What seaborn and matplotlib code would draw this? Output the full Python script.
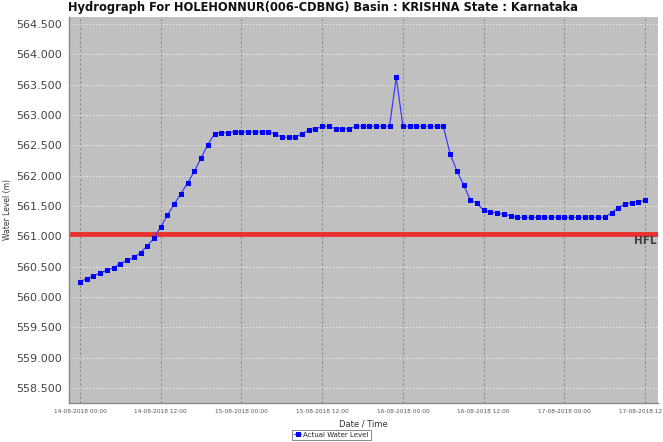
import numpy as np
import pandas as pd
import matplotlib
matplotlib.use("Agg")
import matplotlib.pyplot as plt
import matplotlib.dates as mdates
import matplotlib.transforms as mtransforms
import seaborn as sns

# --- data (hourly readings) ---
start_time = "2018-08-14 00:00"
water_level = [
    560.25, 560.30, 560.35, 560.39, 560.44, 560.48, 560.55, 560.60, 560.65, 560.73,
    560.84, 560.97, 561.15, 561.35, 561.53, 561.70, 561.88, 562.07, 562.29, 562.51,
    562.69, 562.70, 562.71, 562.72, 562.72, 562.72, 562.72, 562.72, 562.72, 562.69,
    562.63, 562.63, 562.63, 562.69, 562.75, 562.77, 562.81, 562.81, 562.77, 562.77,
    562.77, 562.81, 562.81, 562.81, 562.81, 562.81, 562.81, 563.62, 562.81, 562.81,
    562.81, 562.81, 562.81, 562.81, 562.81, 562.36, 562.08, 561.85, 561.60, 561.54,
    561.43, 561.40, 561.38, 561.36, 561.34, 561.31, 561.31, 561.31, 561.31, 561.31,
    561.31, 561.31, 561.31, 561.31, 561.31, 561.31, 561.31, 561.31, 561.31, 561.39,
    561.47, 561.53, 561.55, 561.57, 561.59,
]
hfl_level = 561.04
y_ticks = [558.5, 559.0, 559.5, 560.0, 560.5, 561.0, 561.5, 562.0, 562.5, 563.0, 563.5, 564.0, 564.5]
title = "Hydrograph For HOLEHONNUR(006-CDBNG) Basin : KRISHNA State : Karnataka"

df = pd.DataFrame({
    "time": pd.date_range(start_time, periods=len(water_level), freq="h"),
    "level": water_level,
})

# --- plot ---
sns.set_style("white")
plt.rcParams["font.family"] = ["DejaVu Sans"]

fig = plt.figure(figsize=(6.63, 4.42), dpi=100)
ax = fig.add_axes([69 / 663, 1 - 403 / 442, 589 / 663, 386 / 442])
ax.set_facecolor("#c0c0c0")

t0 = pd.Timestamp(start_time)
ax.set_xlim(t0 - pd.Timedelta(hours=1.63), t0 + pd.Timedelta(hours=85.9))
ax.set_ylim(558.25, 564.615)

# grid
ax.set_yticks(y_ticks)
ax.xaxis.set_major_locator(mdates.HourLocator(byhour=[0, 12]))
ax.xaxis.set_major_formatter(mdates.DateFormatter("%d-%m-%Y %H:%M"))
ax.grid(axis="y", color="#ececec", linestyle=(0, (2, 2)), linewidth=0.6)
ax.grid(axis="x", color="#8a8a8a", linestyle=(0, (2, 2)), linewidth=0.8)
ax.set_axisbelow(True)

# HFL line
ax.axhline(hfl_level, color="#e8302e", linewidth=3.5, zorder=2)
ax.text(0.998, hfl_level - 0.03, "HFL", transform=mtransforms.blended_transform_factory(ax.transAxes, ax.transData),
        ha="right", va="top", fontsize=7.5, fontweight="bold", color="#404040")

sns.lineplot(data=df, x="time", y="level", ax=ax, color="#3c3cff", linewidth=0.9,
             marker="s", markersize=3.6, markerfacecolor="#0000ff", markeredgecolor="#0000ff",
             markeredgewidth=0, label="Actual Water Level", legend=False, zorder=3)

ax.yaxis.set_major_formatter(matplotlib.ticker.FormatStrFormatter("%.3f"))
ax.tick_params(axis="y", labelsize=8, labelcolor="#444444", length=2, color="#888888", pad=3)
ax.tick_params(axis="x", labelsize=4.2, labelcolor="#555555", length=2, color="#888888", pad=2)

for side in ["top", "right"]:
    ax.spines[side].set_visible(False)
for side in ["left", "bottom"]:
    ax.spines[side].set_color("#888888")
    ax.spines[side].set_linewidth(1.0)

ax.set_xlabel("Date / Time", fontsize=6, color="#333333", labelpad=4)
ax.set_ylabel("Water Level (m)", fontsize=5.5, color="#333333")
ax.yaxis.set_label_coords(-0.097, 0.5)

fig.text(0.487, 0.984, title, ha="center", va="center", fontsize=8.3, fontweight="bold", color="#111111")

handles, labels = ax.get_legend_handles_labels()
leg = fig.legend(handles, labels, loc="lower center", bbox_to_anchor=(0.5, 0.0), fontsize=5,
                 frameon=True, fancybox=False, edgecolor="#555555", handlelength=1.0,
                 handletextpad=0.3, borderpad=0.3, borderaxespad=0.3)
leg.get_frame().set_linewidth(0.6)

fig.savefig("out.png", dpi=100)
